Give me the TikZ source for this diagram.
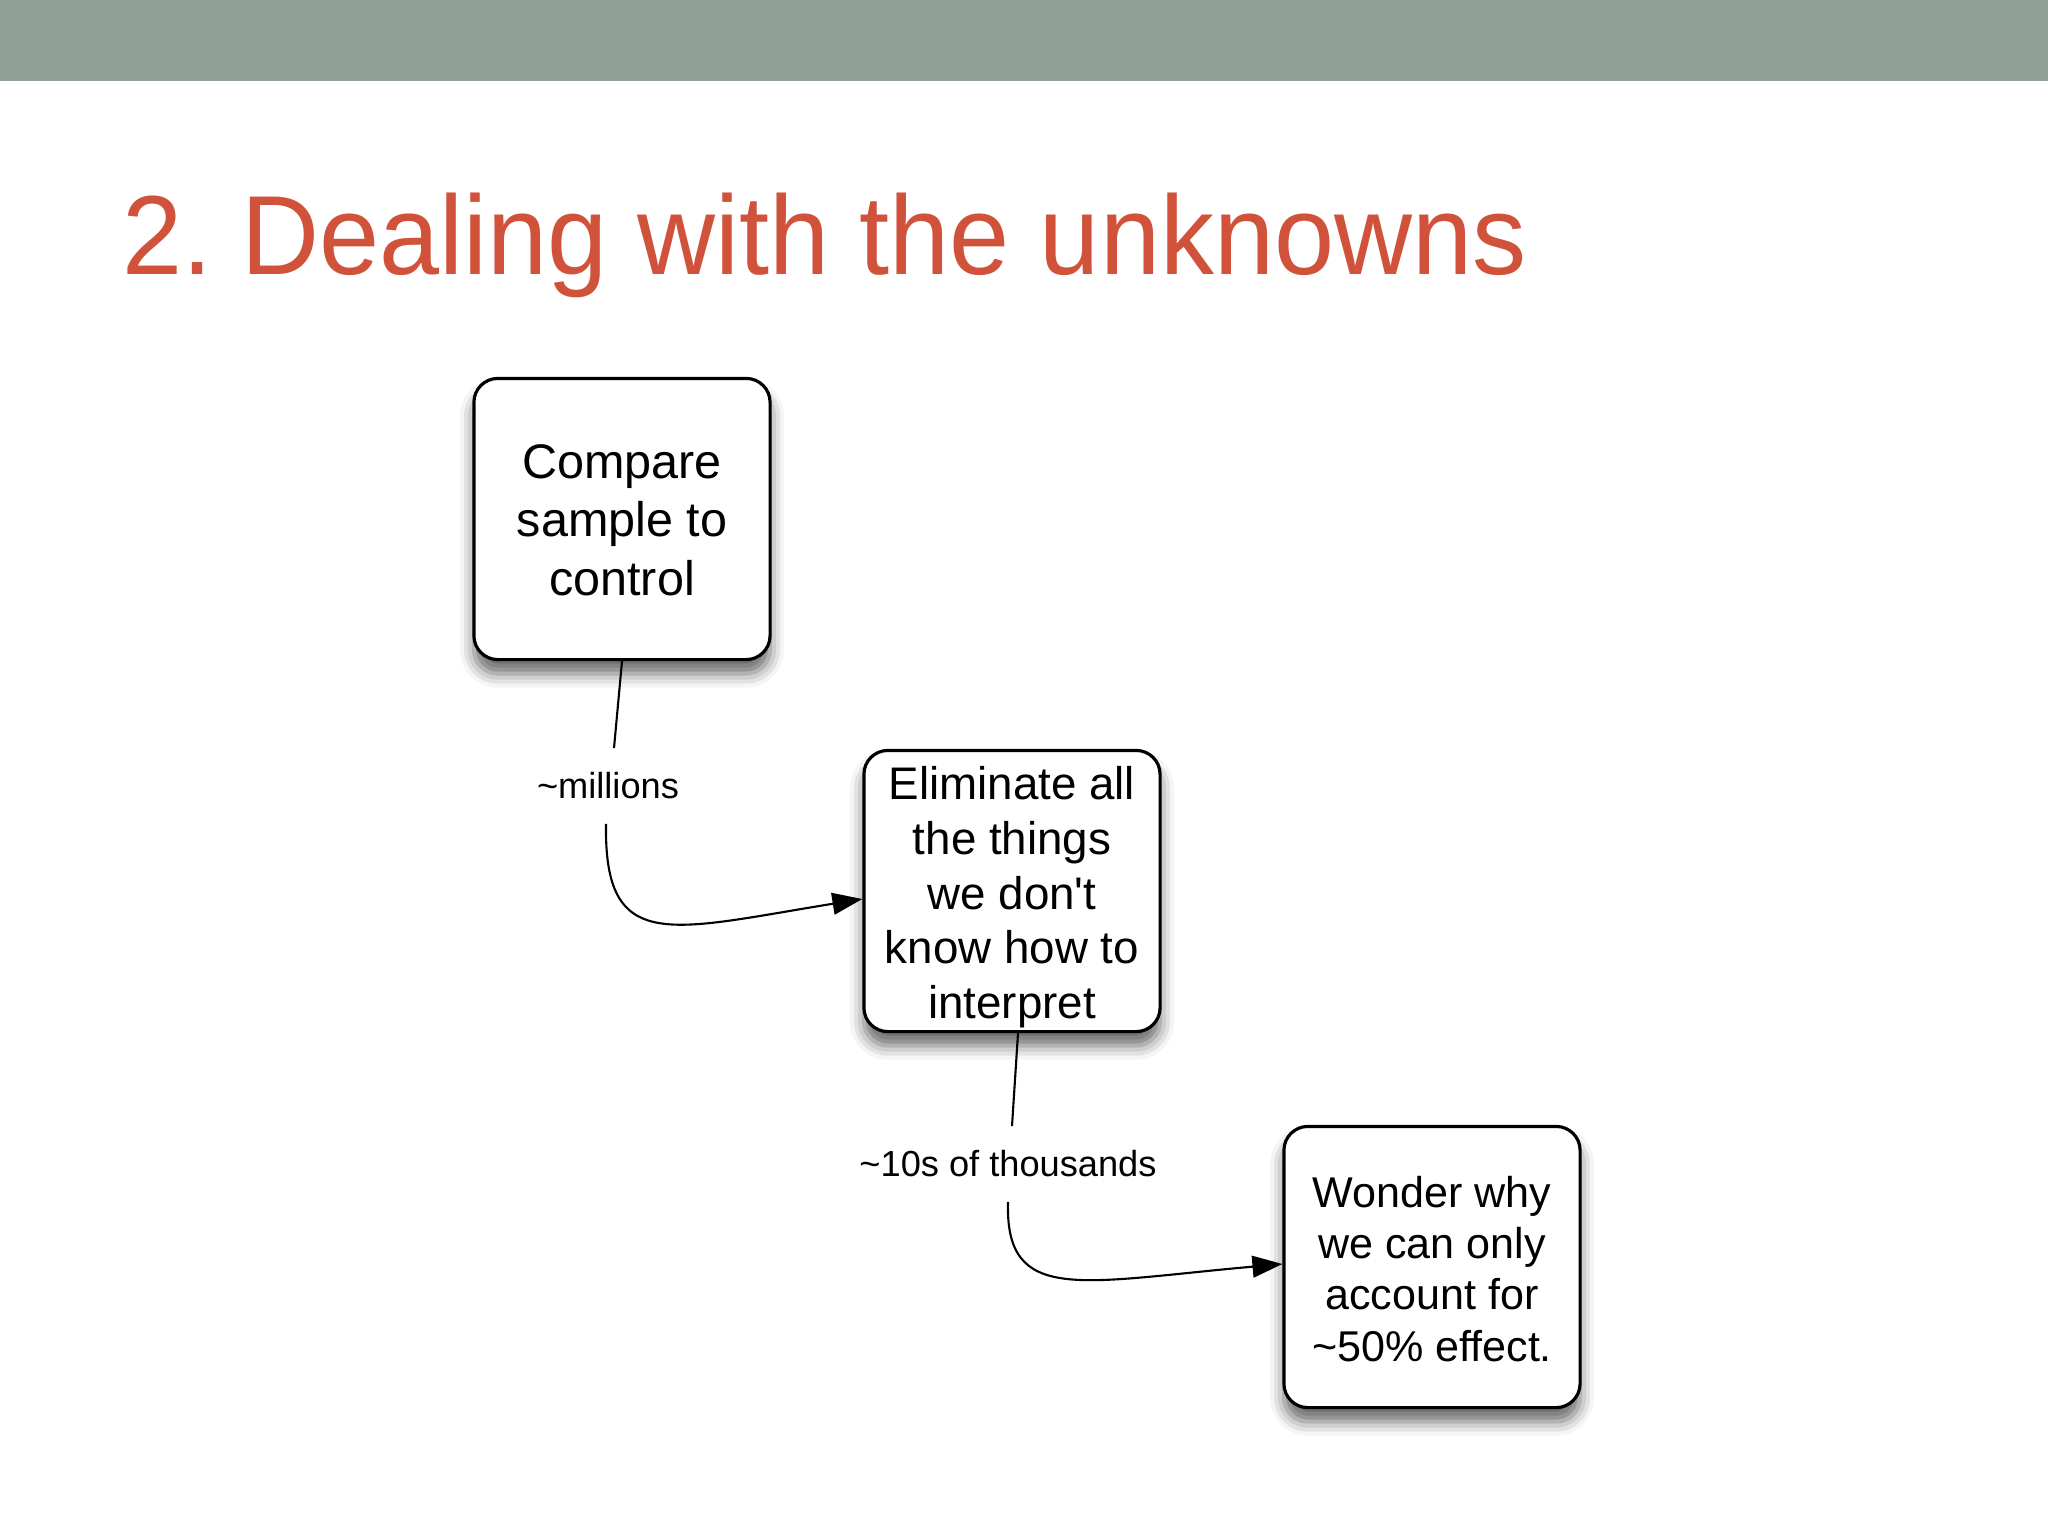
\documentclass[tikz,border=0pt]{standalone}
\usepackage{graphicx}
\usepackage{fontspec}
\setmainfont{Liberation Sans}
\usetikzlibrary{arrows.meta,shadows.blur}
\definecolor{barcol}{RGB}{145,161,154}
\definecolor{titlecol}{RGB}{209,82,58}
\newcommand{\btext}[2]{\raisebox{-#1}[\height][\depth]{\begin{tabular}{@{}c@{}}#2\end{tabular}}}
\begin{document}
\begin{tikzpicture}[x=0.01cm,y=-0.01cm,
  box/.style={draw=black, line width=0.9pt, rounded corners=6.8pt, fill=white,
    minimum width=2.96cm, minimum height=2.81cm, inner sep=0pt,
    blur shadow={shadow xshift=0pt, shadow yshift=-4pt, shadow blur radius=4pt, shadow opacity=60}},
  lab/.style={font=\fontsize{10.3}{12}\selectfont, inner xsep=2pt, inner ysep=6.8pt},
  conn/.style={line width=0.6pt},
  arr/.style={conn, -{Triangle[length=8.5pt,width=6.2pt]}}]
\useasboundingbox (0,0) rectangle (2048,1536);
\fill[barcol] (0,0) rectangle (2048,81);
\node[anchor=base west, inner sep=0pt, text=titlecol, font=\fontsize{32}{38}\selectfont] (title) at (122,274) {\scalebox{0.96}[1]{2.\hspace{8.5pt}Dealing with the unknowns}};

\node[box, font=\fontsize{13.8}{16.6}\selectfont] (b1) at (622,519) {\btext{1.75pt}{Compare\\sample to\\control}};
\node[box, font=\fontsize{13}{15.6}\selectfont] (b2) at (1012,891) {\btext{2pt}{Eliminate all\\the things\\we don\textquotesingle t\\know how to\\interpret}};
\node[box, font=\fontsize{12.25}{14.6}\selectfont] (b3) at (1432,1267) {\btext{2pt}{Wonder why\\we can only\\account for\\\textasciitilde50\% effect.}};

\node[lab] (l1) at (608,786) {\textasciitilde millions};
\node[lab] (l2) at (1008,1164) {\textasciitilde 10s of thousands};

\draw[conn] (b1.south) -- ([xshift=0.06cm]l1.north);
\draw[arr] ([xshift=-0.02cm]l1.south) .. controls (604,955) and (670,930) .. ([yshift=-0.08cm]b2.west);
\draw[conn] ([xshift=0.06cm]b2.south) -- ([xshift=0.04cm]l2.north);
\draw[arr] (l2.south) .. controls (1005,1305) and (1080,1282) .. ([yshift=0.03cm]b3.west);
\end{tikzpicture}
\end{document}
